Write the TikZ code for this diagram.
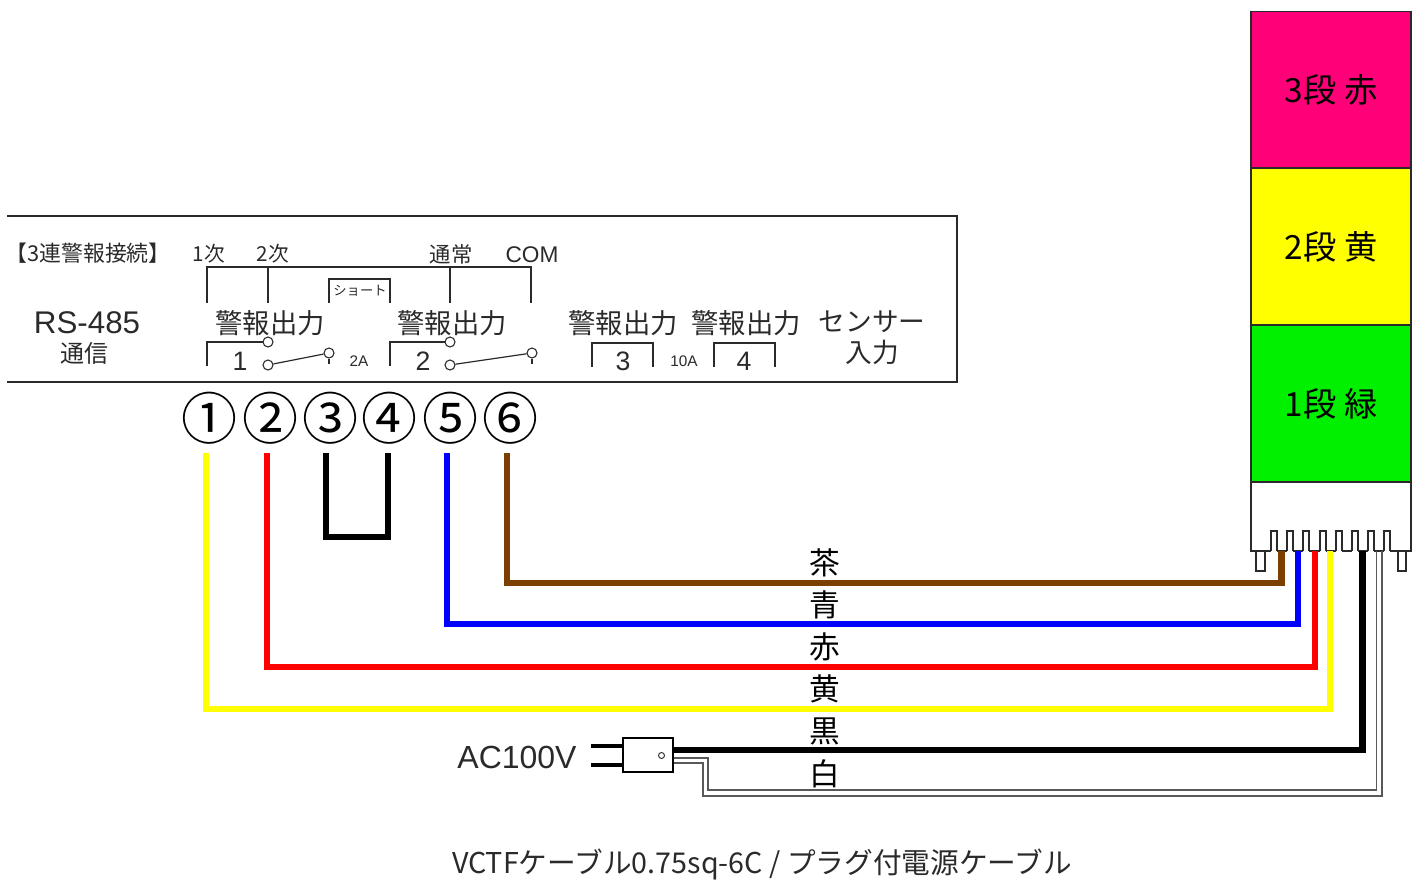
\documentclass[tikz,border=0pt]{standalone}
\usepackage{fontspec}
\setmainfont{Liberation Sans}
\newfontfamily\jp{Noto Sans CJK JP}
\definecolor{inkdark}{HTML}{2A2A2A}
\definecolor{lampred}{HTML}{FF0078}
\definecolor{lampgreen}{HTML}{00F000}
\definecolor{lampyellow}{HTML}{FFFF00}
\definecolor{wirebrown}{HTML}{7B3F00}
\newcommand{\sz}[1]{\fontsize{#1}{#1}\selectfont}
\tikzset{
  txt/.style={inner sep=0pt,text=inkdark},
  wire/.style={line width=5pt},
  thinline/.style={draw=inkdark,line width=0.9pt},
  edgeline/.style={draw=inkdark,line width=1.4pt},
  contact/.style={circle,draw=inkdark,line width=0.8pt,fill=white,inner sep=0pt,minimum size=7.5pt},
  lampseg/.style={draw=inkdark,line width=0.9pt,minimum width=120pt,minimum height=117.5pt,inner sep=0pt,text=black},
  termnum/.style={inner sep=0pt,text=black},
  colourlabel/.style={inner sep=0pt,text=black},
  acwire/.style={draw=gray!70!black,line width=1.1pt}
}
\begin{document}
\begin{tikzpicture}[x=0.75pt,y=-0.75pt]
  \useasboundingbox (0,0) rectangle (1420,881);

  % Controller panel, open on the left
  \draw[edgeline] (7,216) -- (957,216) -- (957,382) -- (7,382);

  % Panel headings
  \node[txt] (title) at (88,253) {\jp\sz{16.4}【3連警報接続】};
  \node[txt] (lbla) at (209,254) {\jp\sz{15.5}1次};
  \node[txt] (lblb) at (273,254) {\jp\sz{15.5}2次};
  \node[txt] (lblc) at (451,254) {\jp\sz{16}通常};
  \node[txt] (lbld) at (532,255) {\sz{17}COM};

  % Bracket and short link
  \draw[thinline] (207,303) -- (207,267) -- (531,267) -- (531,303);
  \draw[thinline] (268,267) -- (268,303);
  \draw[thinline] (450,267) -- (450,303);
  \draw[thinline] (329,303) -- (329,279) -- (390,279) -- (390,303);
  \node[txt] (short) at (360,291) {\jp\sz{10}ショート};

  % Block names
  \node[txt] (rs) at (87,323) {\sz{23.5}RS-485};
  \node[txt] (rsb) at (84,353) {\jp\sz{18}通信};
  \node[txt] (outa) at (270,323) {\jp\sz{20.5}警報出力};
  \node[txt] (outb) at (452,323) {\jp\sz{20.5}警報出力};
  \node[txt] (outc) at (623,323) {\jp\sz{20.5}警報出力};
  \node[txt] (outd) at (746,323) {\jp\sz{20.5}警報出力};
  \node[txt] (sens) at (872,322) {\jp\sz{20}センサー};
  \node[txt] (sensb) at (872,352) {\jp\sz{20}入力};

  % Output 1 and 2 with contacts
  \draw[thinline] (207,366) -- (207,342) -- (268,342);
  \draw[thinline] (390,366) -- (390,342) -- (450,342);
  \node[contact] (ca) at (268,342) {};
  \node[contact] (cb) at (268,365) {};
  \node[contact] (cc) at (329,353) {};
  \node[contact] (cd) at (450,342) {};
  \node[contact] (ce) at (450,365) {};
  \node[contact] (cf) at (532,353) {};
  \draw[thinline] (cb) -- (cc);
  \draw[thinline] (ce) -- (cf);
  \draw[thinline] (cc) -- (329,364);
  \draw[thinline] (cf) -- (532,364);
  \node[txt] (numa) at (240,361) {\sz{20}1};
  \node[txt] (numb) at (423,361) {\sz{20}2};
  \node[txt] (ampa) at (359,361) {\sz{11.5}2A};

  % Output 3 and 4
  \draw[thinline] (592,367) -- (592,343) -- (653,343) -- (653,367);
  \draw[thinline] (714,367) -- (714,343) -- (775,343) -- (775,367);
  \node[txt] (numc) at (623,361) {\sz{20}3};
  \node[txt] (numd) at (744,361) {\sz{20}4};
  \node[txt] (ampb) at (684,361) {\sz{11.5}10A};

  % Terminal numbers
  \node[termnum] (t1) at (209,418) {\jp\sz{42}①};
  \node[termnum] (t2) at (270,418) {\jp\sz{42}②};
  \node[termnum] (t3) at (330,418) {\jp\sz{42}③};
  \node[termnum] (t4) at (389,418) {\jp\sz{42}④};
  \node[termnum] (t5) at (450,418) {\jp\sz{42}⑤};
  \node[termnum] (t6) at (510,418) {\jp\sz{42}⑥};

  % Signal tower
  \node[lampseg,fill=lampred] (red) at (1331,89.5) {\jp\sz{25}3段 赤};
  \node[lampseg,fill=lampyellow] (amber) at (1331,246.5) {\jp\sz{25}2段 黄};
  \node[lampseg,fill=lampgreen] (green) at (1331,403.5) {\jp\sz{25}1段 緑};
  \draw[thinline,fill=white] (1251,482) rectangle (1411,551);
  \draw[thinline,fill=white] (1256,551) rectangle (1265,571);
  \draw[thinline,fill=white] (1398,551) rectangle (1406,571);
  \foreach \x in {1271,1287,1303,1320,1336,1352,1368,1384} {
    \fill[white] (\x,531) rectangle (\x+6,552);
    \draw[thinline] (\x,551) -- (\x,531) -- (\x+6,531) -- (\x+6,551);
  }

  % Wire ends and corners
  \coordinate (sy) at (206,453);
  \coordinate (sr) at (267,453);
  \coordinate (sa) at (326,453);
  \coordinate (sb) at (388,453);
  \coordinate (su) at (447,453);
  \coordinate (sn) at (507,453);
  \coordinate (py) at (1330,551);
  \coordinate (pr) at (1315,551);
  \coordinate (pu) at (1298,551);
  \coordinate (pn) at (1281.5,551);
  \coordinate (pk) at (1362.5,551);
  \coordinate (pw) at (1376.5,551);
  \coordinate (px) at (1382,551);
  \coordinate (by) at (1330,709);
  \coordinate (br) at (1315,667);
  \coordinate (bu) at (1298,624);
  \coordinate (bn) at (1281.5,583);
  \coordinate (bk) at (1362.5,750);

  % Coloured wires
  \draw[wire,lampyellow] (sy) |- (by) -- (py);
  \draw[wire,red] (sr) |- (br) -- (pr);
  \draw[wire,blue] (su) |- (bu) -- (pu);
  \draw[wire,wirebrown] (sn) |- (bn) -- (pn);
  \draw[wire,black] (sa) -- (326,537) -- (388,537) -- (sb);

  % Plug
  \node[draw=black,line width=1.1pt,minimum width=37.5pt,minimum height=25.5pt,inner sep=0pt] (plug) at (648,755) {};
  \coordinate (pina) at (591,746);
  \coordinate (pinb) at (591,765);
  \draw[black,line width=2.3pt] (pina) -- (pina-|plug.west);
  \draw[black,line width=2.3pt] (pinb) -- (pinb-|plug.west);
  \node[circle,draw=inkdark,line width=0.7pt,inner sep=0pt,minimum size=4.5pt] (hole) at (661.5,755.5) {};
  \node[txt] (ac) at (517,757) {\sz{24}AC100V};

  % Power wires
  \draw[wire,black] (plug.east|-bk) -- (bk) -- (pk);
  \draw[acwire] (plug.east|-0,758) -- (708,758) -- (708,790) -- (1376.5,790) -- (pw);
  \draw[acwire] (plug.east|-0,763) -- (703,763) -- (703,796) -- (1382,796) -- (px);

  % Colour names
  \node[colourlabel] (cna) at (825,563) {\jp\sz{23}茶};
  \node[colourlabel] (cnb) at (825,605) {\jp\sz{23}青};
  \node[colourlabel] (cnc) at (825,647) {\jp\sz{23}赤};
  \node[colourlabel] (cnd) at (825,689) {\jp\sz{23}黄};
  \node[colourlabel] (cne) at (825,731) {\jp\sz{23}黒};
  \node[colourlabel] (cnf) at (825,774) {\jp\sz{23}白};

  % Caption
  \node[txt] (cap) at (762,864) {\jp\sz{21.5}VCTFケーブル0.75sq-6C / プラグ付電源ケーブル};
\end{tikzpicture}
\end{document}
